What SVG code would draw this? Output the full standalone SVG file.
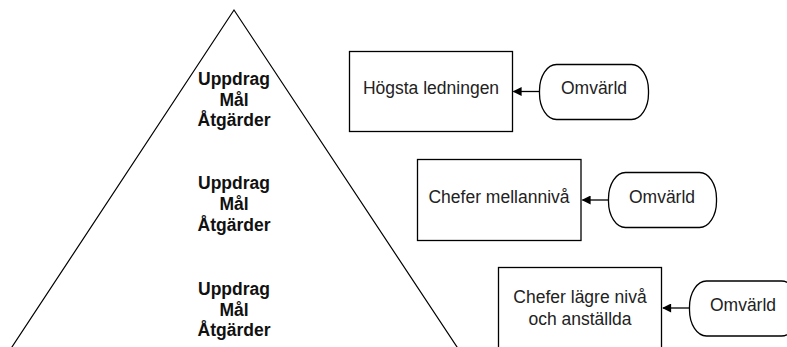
<svg xmlns="http://www.w3.org/2000/svg" width="787" height="347" viewBox="0 0 787 347">
<defs>
<style>
.shape{fill:#fff;stroke:#000;stroke-width:1.3}
.lbl{font-family:"Liberation Sans",Arial,sans-serif;font-size:17.5px;fill:#222;text-anchor:middle}
.bold{font-weight:bold;fill:#111}
.conn{stroke:#000;stroke-width:1.3;fill:none}
</style>
<marker id="arr" viewBox="0 0 10 10" refX="9" refY="5" markerWidth="13" markerHeight="9" markerUnits="userSpaceOnUse" orient="auto">
<path d="M0,0 L10,5 L0,10 Z" fill="#000"/>
</marker>
</defs>
<rect width="787" height="347" fill="#fff"/>
<g id="pyramid">
<path d="M4.7,358 L234,10 L464.3,358" fill="none" stroke="#000" stroke-width="1.2"/>
<text class="lbl bold" x="234" y="85">Uppdrag</text>
<text class="lbl bold" x="234" y="105.5">Mål</text>
<text class="lbl bold" x="234" y="126">Åtgärder</text>
<text class="lbl bold" x="234" y="189">Uppdrag</text>
<text class="lbl bold" x="234" y="210">Mål</text>
<text class="lbl bold" x="234" y="231">Åtgärder</text>
<text class="lbl bold" x="234" y="295">Uppdrag</text>
<text class="lbl bold" x="234" y="316">Mål</text>
<text class="lbl bold" x="234" y="336">Åtgärder</text>
</g>
<g id="hogsta">
<rect class="shape" x="349.5" y="51.5" width="163" height="80"/>
<text class="lbl" x="431" y="94">Högsta ledningen</text>
</g>
<g id="omvarld1">
<rect class="shape" x="539.5" y="64.5" width="109" height="55" rx="17" ry="26"/>
<text class="lbl" x="594" y="94">Omvärld</text>
</g>
<g id="mellan">
<rect class="shape" x="417.5" y="159.5" width="163.5" height="81"/>
<text class="lbl" x="499" y="203">Chefer mellannivå</text>
</g>
<g id="omvarld2">
<rect class="shape" x="608.5" y="172.5" width="108" height="55" rx="17" ry="26"/>
<text class="lbl" x="662" y="202.5">Omvärld</text>
</g>
<g id="lagre">
<rect class="shape" x="498.5" y="267.5" width="163" height="81"/>
<text class="lbl" x="580" y="303">Chefer lägre nivå</text>
<text class="lbl" x="580" y="325">och anställda</text>
</g>
<g id="omvarld3">
<rect class="shape" x="689.5" y="281" width="109" height="55" rx="17" ry="26"/>
<text class="lbl" x="743" y="310.5">Omvärld</text>
</g>
<g id="connectors">
<line class="conn" x1="539.5" y1="91.5" x2="513.5" y2="91.5" marker-end="url(#arr)"/>
<line class="conn" x1="608.5" y1="200" x2="582.5" y2="200" marker-end="url(#arr)"/>
<line class="conn" x1="689.5" y1="308" x2="663" y2="308" marker-end="url(#arr)"/>
</g>
</svg>
